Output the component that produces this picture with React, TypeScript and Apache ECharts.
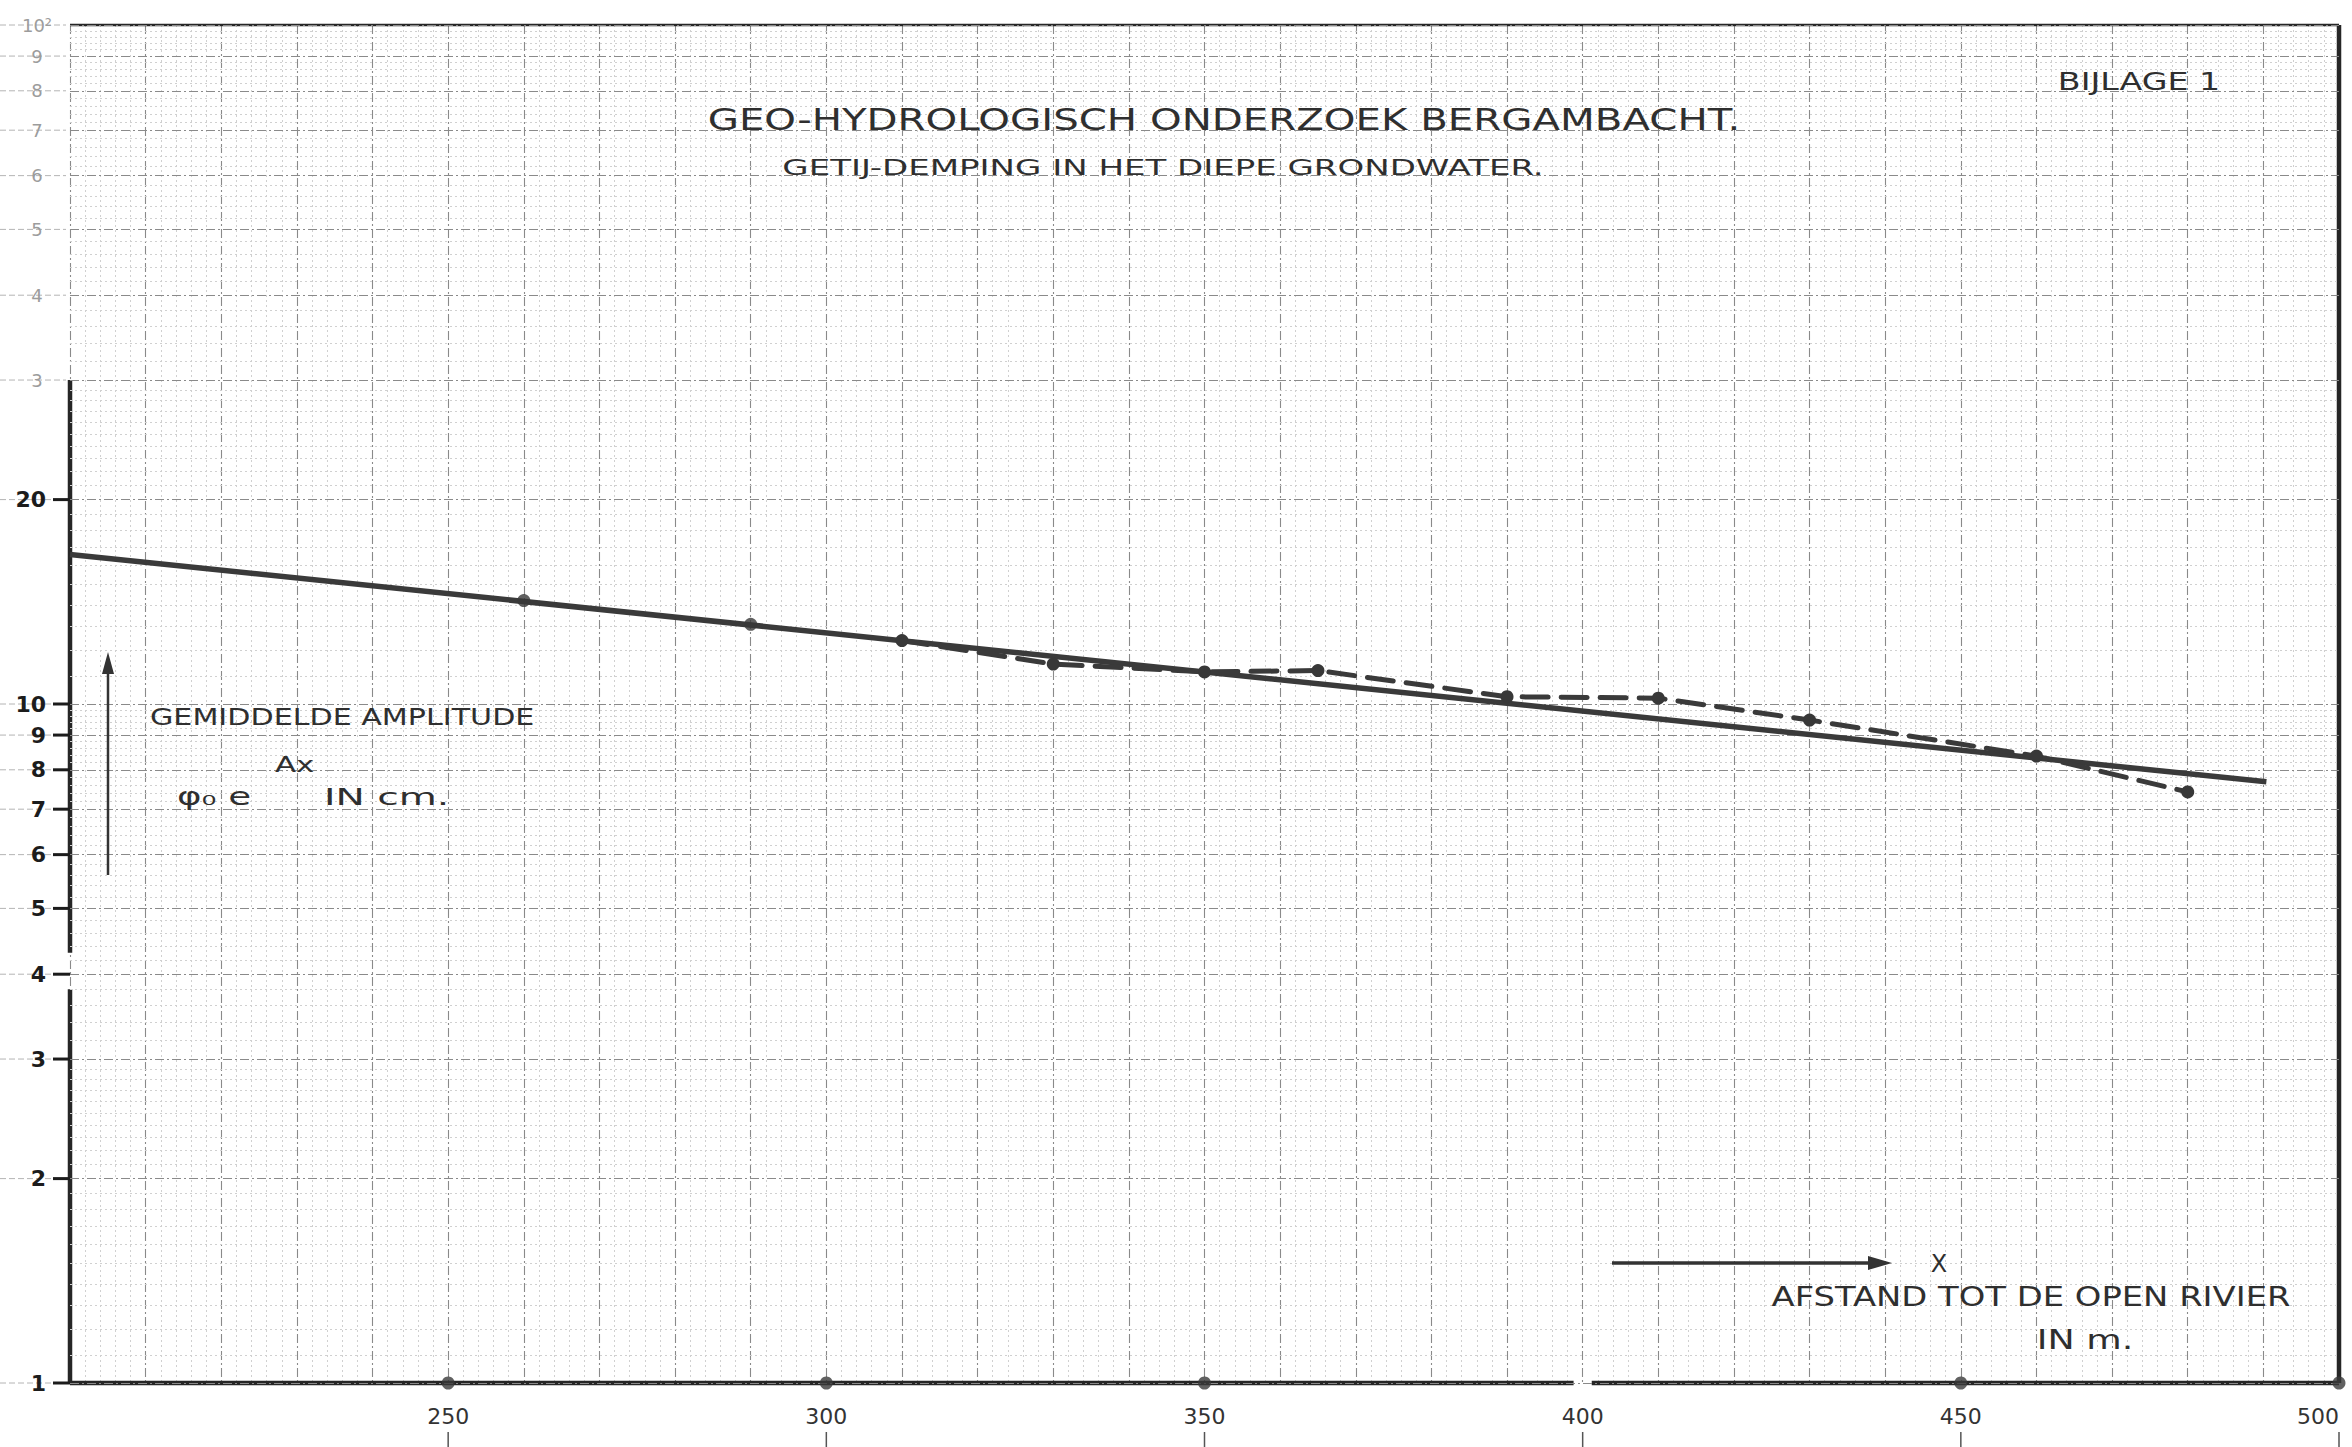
import React, { useEffect, useRef } from 'react';
import * as echarts from 'echarts';

// ---------- data ----------
const X_MIN = 200;
const X_MAX = 500;
const Y_MIN = 1;
const Y_MAX = 100;

// measured mean amplitudes (dashed curve)
const measuredX = [310, 330, 350, 365, 390, 410, 430, 460, 480];
const measuredY = [12.4, 11.45, 11.15, 11.2, 10.25, 10.2, 9.47, 8.38, 7.42];

// further measured points lying on the fitted line
const fitDotsX = [260, 290];
const fitDotsY = [14.2, 13.1];

// fitted straight line  A = A0 e^(-ax)  (end points)
const fitLineX = [200, 490.4];
const fitLineY = [16.6, 7.68];

// axis decorations
const xLabelValues = [250, 300, 350, 400, 450, 500];
const xAxisDotValues = [250, 300, 350, 450, 500];
const yLabelValues = [1, 2, 3, 4, 5, 6, 7, 8, 9, 10, 20];
const paperLabelValues = [30, 40, 50, 60, 70, 80, 90, 100];
const paperLabelTexts = ['3', '4', '5', '6', '7', '8', '9', '10²'];

// frame pieces (hand-drawn axes)
const bottomAxisLeft = [[200, 1], [398.8, 1]];
const bottomAxisRight = [[401.2, 1], [500, 1]];
const leftAxisUpper = [[200, 30], [200, 4.3]];
const leftAxisLower = [[200, 3.8], [200, 1]];
const rightBorder = [[500, 1], [500, 100]];
const topBorder = [[200, 100], [500, 100]];

// log-paper rulings (mantissas per decade)
const decades = [1, 10];
const majorMantissas = [1, 2, 3, 4, 5, 6, 7, 8, 9];
const minorMantissasFine = [1.1, 1.2, 1.3, 1.4, 1.5, 1.6, 1.7, 1.8, 1.9, 2.1, 2.2, 2.3, 2.4, 2.5, 2.6, 2.7, 2.8, 2.9];
const minorMantissasCoarse = [3.2, 3.4, 3.6, 3.8, 4.2, 4.4, 4.6, 4.8, 5.2, 5.4, 5.6, 5.8, 6.2, 6.4, 6.6, 6.8, 7.2, 7.4, 7.6, 7.8, 8.2, 8.4, 8.6, 8.8, 9.2, 9.4, 9.6, 9.8];

const FONT = '"DejaVu Sans", "Noto Sans", sans-serif';
const INK = '#333333';
const LETTER = '#2f2f2f';

function pairs(xs: number[], ys: number[]) {
  return xs.map((x, i) => [x, ys[i]]);
}

export default function App() {
  const ref = useRef<HTMLDivElement>(null);

  useEffect(() => {
    document.body.style.margin = '0';
    const el = ref.current!;
    const chart = echarts.init(el, undefined, { renderer: 'svg' });

    const majorVals: number[] = [];
    const minorVals: number[] = [];
    decades.forEach((d) => {
      majorMantissas.forEach((m) => majorVals.push(+(m * d).toFixed(4)));
      minorMantissasFine.forEach((m) => minorVals.push(+(m * d).toFixed(4)));
      minorMantissasCoarse.forEach((m) => minorVals.push(+(m * d).toFixed(4)));
    });
    majorVals.push(100);

    const hLines = [
      ...minorVals.map((v) => ({
        yAxis: v,
        lineStyle: { color: '#d0d0d0', width: 1, type: [2, 3] },
      })),
      ...majorVals.map((v) => ({
        yAxis: v,
        lineStyle: { color: '#8a8a8a', width: 1.1, type: [9, 3, 2, 3] },
      })),
    ];

    const frameLine = (data: number[][], width: number) => ({
      type: 'line',
      data,
      clip: false,
      symbol: 'none',
      silent: true,
      z: 4,
      lineStyle: { color: '#262626', width, cap: 'butt' },
    });

    const option: any = {
      animation: false,
      backgroundColor: '#ffffff',
      grid: { left: 70, right: 13, top: 25, bottom: 64 },
      xAxis: {
        type: 'value',
        min: X_MIN,
        max: X_MAX,
        interval: 10,
        axisLine: { show: false },
        axisTick: { show: false },
        axisLabel: {
          show: true,
          margin: 22,
          fontSize: 22,
          fontFamily: FONT,
          color: INK,
          showMinLabel: false,
          showMaxLabel: true,
          alignMaxLabel: 'right',
          hideOverlap: false,
          formatter: (v: number) => (xLabelValues.indexOf(Math.round(v)) >= 0 ? String(Math.round(v)) : ''),
        },
        splitLine: {
          show: true,
          lineStyle: { color: '#8a8a8a', width: 1.1, type: [9, 3, 2, 3] },
        },
        minorTick: { show: false, splitNumber: 5 },
        minorSplitLine: {
          show: true,
          lineStyle: { color: '#d0d0d0', width: 1, type: [2, 3] },
        },
      },
      yAxis: {
        type: 'log',
        logBase: 10,
        min: Y_MIN,
        max: Y_MAX,
        axisLine: { show: false },
        axisTick: { show: false },
        axisLabel: { show: false },
        splitLine: { show: false },
      },
      series: [
        {
          type: 'line',
          name: 'paper',
          data: [[X_MIN, Y_MIN], [X_MAX, Y_MAX]],
          symbol: 'none',
          silent: true,
          lineStyle: { opacity: 0 },
          z: 1,
          markLine: {
            silent: true,
            symbol: ['none', 'none'],
            label: { show: false },
            animation: false,
            data: hLines,
          },
        },
        frameLine(bottomAxisLeft, 4.5),
        frameLine(bottomAxisRight, 4.5),
        frameLine(leftAxisUpper, 4.5),
        frameLine(leftAxisLower, 4.5),
        frameLine(rightBorder, 4.5),
        frameLine(topBorder, 2.5),
        {
          type: 'line',
          name: 'fitted',
          data: pairs(fitLineX, fitLineY),
          clip: false,
          symbol: 'none',
          z: 5,
          lineStyle: { color: '#3a3a3a', width: 5.5 },
        },
        {
          type: 'line',
          name: 'measured',
          data: pairs(measuredX, measuredY),
          symbol: 'circle',
          symbolSize: 13,
          showSymbol: true,
          z: 6,
          itemStyle: { color: '#383838' },
          lineStyle: { color: '#3a3a3a', width: 5, type: [26, 13], cap: 'round' },
        },
        {
          type: 'scatter',
          name: 'fitDots',
          data: pairs(fitDotsX, fitDotsY),
          symbolSize: 13,
          z: 6,
          itemStyle: { color: '#383838' },
        },
        {
          type: 'scatter',
          name: 'axisDots',
          data: xAxisDotValues.map((x) => [x, 1]),
          symbolSize: 13,
          clip: false,
          z: 6,
          itemStyle: { color: '#3a3a3a' },
        },
      ],
    };

    chart.setOption(option);

    const px = (v: number) => chart.convertToPixel({ xAxisIndex: 0 }, v) as number;
    const py = (v: number) => chart.convertToPixel({ yAxisIndex: 0 }, v) as number;

    const text = (
      t: string,
      x: number,
      y: number,
      size: number,
      opts: { align?: string; scaleX?: number; fill?: string; weight?: string } = {}
    ) => ({
      type: 'text',
      x,
      y,
      scaleX: opts.scaleX ?? 1,
      z: 20,
      silent: true,
      style: {
        text: t,
        font: `${opts.weight ?? 'normal'} ${size}px ${FONT}`,
        fill: opts.fill ?? INK,
        textAlign: opts.align ?? 'center',
        align: opts.align ?? 'center',
        textVerticalAlign: 'middle',
        verticalAlign: 'middle',
      },
    });

    const elements: any[] = [];

    // paper rulings continuing into the left margin
    majorVals.forEach((v) => {
      const y = py(v);
      elements.push({
        type: 'line',
        z: 2,
        silent: true,
        shape: { x1: 0, y1: y, x2: 66, y2: y },
        style: { stroke: '#b4b4b4', lineWidth: 1, lineDash: [6, 3] },
      });
    });

    // printed paper labels of the upper decade
    paperLabelValues.forEach((v, i) => {
      elements.push(text(paperLabelTexts[i], 37, py(v), 18, { fill: '#9c9c9c' }));
    });

    // hand-written y tick labels and tick marks
    yLabelValues.forEach((v) => {
      const y = py(v);
      elements.push(text(String(v), 46, y, 22, { align: 'right', fill: '#1c1c1c', weight: 'bold' }));
      elements.push({
        type: 'line',
        z: 10,
        silent: true,
        shape: { x1: 53, y1: y, x2: 70, y2: y },
        style: { stroke: '#1c1c1c', lineWidth: 3 },
      });
    });

    // small vertical marks under the x labels
    xLabelValues.forEach((v) => {
      const x = px(v);
      elements.push({
        type: 'line',
        z: 10,
        silent: true,
        shape: { x1: x, y1: 1432, x2: x, y2: 1447 },
        style: { stroke: '#555555', lineWidth: 1.5 },
      });
    });

    // titles
    elements.push(text('GEO-HYDROLOGISCH ONDERZOEK BERGAMBACHT.', 1224, 119, 31, { scaleX: 1.3, fill: LETTER }));
    elements.push(text('GETIJ-DEMPING IN HET DIEPE GRONDWATER.', 1163, 168, 21, { scaleX: 1.62, fill: LETTER }));
    elements.push(text('BIJLAGE 1', 2139, 82, 25, { scaleX: 1.33, fill: LETTER }));

    // y-axis caption
    elements.push(text('GEMIDDELDE AMPLITUDE', 150, 717, 23, { align: 'left', scaleX: 1.31, fill: LETTER }));
    elements.push(text('Ax', 275, 764, 22, { align: 'left', scaleX: 1.4, fill: LETTER }));
    elements.push(text('φ₀ e', 177, 797, 24, { align: 'left', scaleX: 1.55, fill: LETTER }));
    elements.push(text('IN cm.', 324, 797, 23, { align: 'left', scaleX: 1.7, fill: LETTER }));

    // vertical arrow
    elements.push({
      type: 'line',
      z: 10,
      silent: true,
      shape: { x1: 108, y1: 875, x2: 108, y2: 668 },
      style: { stroke: '#333333', lineWidth: 2.5 },
    });
    elements.push({
      type: 'polygon',
      z: 10,
      silent: true,
      shape: { points: [[108, 652], [102, 674], [114, 674]] },
      style: { fill: '#333333' },
    });

    // x-axis caption with arrow
    elements.push({
      type: 'line',
      z: 10,
      silent: true,
      shape: { x1: 1612, y1: 1263, x2: 1872, y2: 1263 },
      style: { stroke: '#333333', lineWidth: 3.5 },
    });
    elements.push({
      type: 'polygon',
      z: 10,
      silent: true,
      shape: { points: [[1892, 1263], [1868, 1256], [1868, 1270]] },
      style: { fill: '#333333' },
    });
    elements.push(text('X', 1939, 1264, 24, { fill: LETTER }));
    elements.push(text('AFSTAND TOT DE OPEN RIVIER', 2031, 1297, 26, { scaleX: 1.3, fill: LETTER }));
    elements.push(text('IN m.', 2085, 1340, 26, { scaleX: 1.4, fill: LETTER }));

    chart.setOption({ graphic: { elements } });

    return () => {
      chart.dispose();
    };
  }, []);

  return <div ref={ref} style={{ width: 2352, height: 1447 }} />;
}
